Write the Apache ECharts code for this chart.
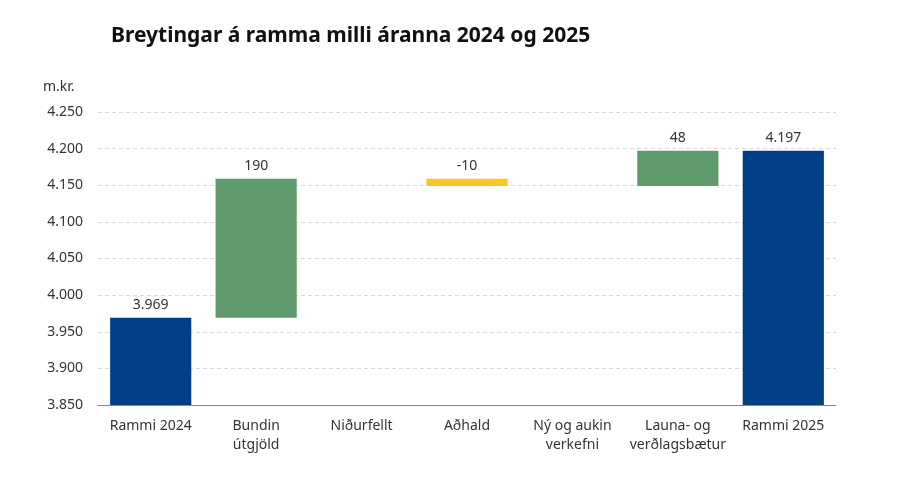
<!DOCTYPE html>
<html>
<head>
<meta charset="utf-8">
<script src="https://cdn.jsdelivr.net/npm/echarts@6/dist/echarts.min.js"></script>
<style>
  html, body { margin: 0; padding: 0; background: #fff; }
  #chart { width: 900px; height: 485px; }
</style>
</head>
<body>
<div id="chart"></div>
<script>
var categories = ['Rammi 2024', 'Bundin\nútgjöld', 'Niðurfellt', 'Aðhald', 'Ný og aukin\nverkefni', 'Launa- og\nverðlagsbætur', 'Rammi 2025'];
var startTotal = 3969;
var changes = [190, 0, -10, 0, 48];
var endTotal = 4197;
var yTicks = { min: 3850, max: 4250, interval: 50 };

var blue = '#003f87', green = '#5f9a6c', yellow = '#f9c623';

function fmt(v) {
  var s = String(Math.abs(v)).replace(/\B(?=(\d{3})+(?!\d))/g, '.');
  return (v < 0 ? '-' : '') + s;
}

// waterfall: invisible base + visible part
var baseData = [0];
var shownData = [{ value: startTotal, raw: startTotal, itemStyle: { color: blue } }];
var running = startTotal;
changes.forEach(function (c) {
  var lo = c >= 0 ? running : running + c;
  baseData.push(lo);
  shownData.push({ value: Math.abs(c), raw: c, itemStyle: { color: c >= 0 ? green : yellow } });
  running += c;
});
baseData.push(0);
shownData.push({ value: endTotal, raw: endTotal, itemStyle: { color: blue } });

var chart = echarts.init(document.getElementById('chart'));
var option = {
  animation: false,
  textStyle: { fontFamily: 'Noto Sans' },
  title: {
    text: 'Breytingar á ramma milli áranna 2024 og 2025',
    left: 106, top: 21,
    textStyle: { fontSize: 21, fontWeight: 'bold', color: '#111', fontFamily: 'Noto Sans' }
  },
  graphic: [{
    type: 'text', left: 43, top: 80,
    style: { text: 'm.kr.', fill: '#333', fontSize: 14, fontFamily: 'Noto Sans' }
  }],
  grid: { left: 98, right: 64, top: 112, bottom: 80 },
  xAxis: {
    type: 'category',
    data: categories,
    axisLine: { lineStyle: { color: '#888', width: 1 } },
    axisTick: { show: false },
    axisLabel: { color: '#333', fontSize: 14, margin: 12, lineHeight: 19, interval: 0 }
  },
  yAxis: {
    type: 'value',
    min: yTicks.min, max: yTicks.max, interval: yTicks.interval,
    axisLine: { show: false },
    axisTick: { show: false },
    axisLabel: { color: '#333', fontSize: 14, margin: 15, formatter: fmt },
    splitLine: { lineStyle: { color: '#d9d9d9', type: [4, 3] } }
  },
  series: [
    {
      type: 'bar', stack: 'w', data: baseData,
      itemStyle: { color: 'transparent' }, silent: true,
      barWidth: '77%'
    },
    {
      type: 'bar', stack: 'w', data: shownData, barWidth: '77%',
      label: {
        show: true, position: 'top', color: '#333', fontSize: 14, distance: 6,
        formatter: function (p) { return p.data.raw === 0 ? '' : fmt(p.data.raw); }
      }
    }
  ]
};
chart.setOption(option);
</script>
</body>
</html>
